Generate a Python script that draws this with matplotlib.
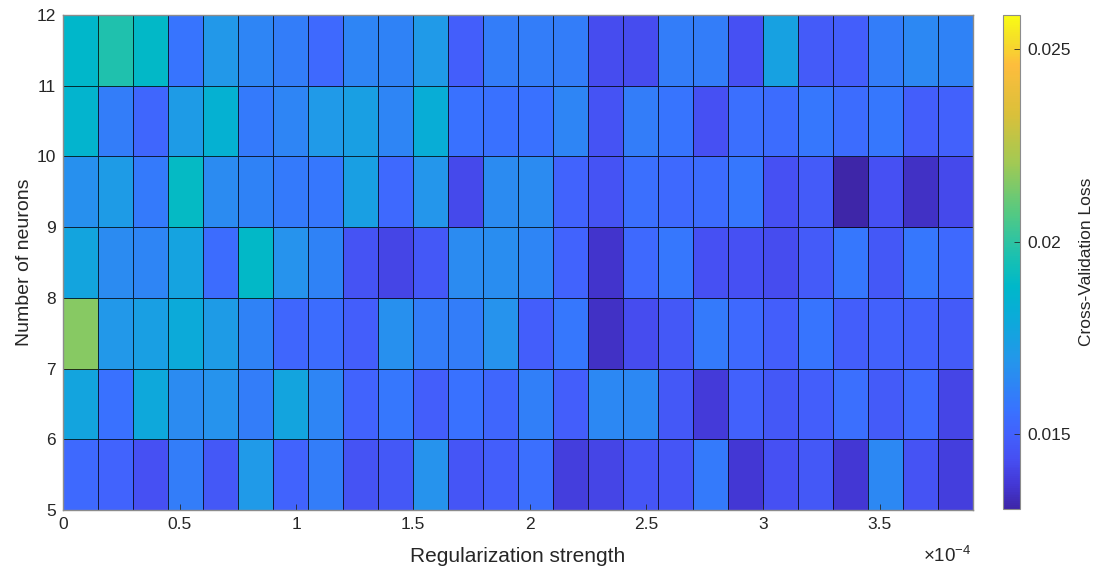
import numpy as np
import matplotlib
matplotlib.use("Agg")
import matplotlib.pyplot as plt
from matplotlib.colors import LinearSegmentedColormap
from matplotlib.ticker import FixedLocator

plt.rcParams['font.family'] = ['Liberation Sans', 'DejaVu Sans']
plt.rcParams['mathtext.fontset'] = 'custom'
plt.rcParams['mathtext.rm'] = 'Liberation Sans'
plt.rcParams['mathtext.it'] = 'Liberation Sans'

# Grid edges: regularization strength (columns) and number of neurons (rows)
reg_edges = [0.0, 0.15e-4, 0.30e-4, 0.45e-4, 0.60e-4, 0.75e-4, 0.90e-4, 1.05e-4,
             1.20e-4, 1.35e-4, 1.50e-4, 1.65e-4, 1.80e-4, 1.95e-4, 2.10e-4, 2.25e-4,
             2.40e-4, 2.55e-4, 2.70e-4, 2.85e-4, 3.00e-4, 3.15e-4, 3.30e-4, 3.45e-4,
             3.60e-4, 3.75e-4, 3.90e-4]
neuron_edges = [5, 6, 7, 8, 9, 10, 11, 12]

# Cross-validation loss, one list per neuron count (5 .. 11)
loss_n5 = [0.0153, 0.0151, 0.0144, 0.0160, 0.0147, 0.0171, 0.0151, 0.0160, 0.0145, 0.0147,
           0.0168, 0.0146, 0.0149, 0.0155, 0.0139, 0.0141, 0.0146, 0.0146, 0.0159, 0.0137,
           0.0144, 0.0147, 0.0137, 0.0164, 0.0145, 0.0139]
loss_n6 = [0.0177, 0.0156, 0.0179, 0.0165, 0.0168, 0.0160, 0.0177, 0.0163, 0.0151, 0.0158,
           0.0149, 0.0156, 0.0152, 0.0161, 0.0149, 0.0164, 0.0164, 0.0147, 0.0138, 0.0150,
           0.0147, 0.0149, 0.0155, 0.0148, 0.0153, 0.0141]
loss_n7 = [0.0216, 0.0170, 0.0174, 0.0180, 0.0172, 0.0162, 0.0152, 0.0154, 0.0149, 0.0167,
           0.0160, 0.0160, 0.0168, 0.0149, 0.0158, 0.0135, 0.0143, 0.0147, 0.0159, 0.0153,
           0.0149, 0.0157, 0.0149, 0.0150, 0.0150, 0.0148]
loss_n8 = [0.0177, 0.0165, 0.0163, 0.0176, 0.0154, 0.0189, 0.0168, 0.0162, 0.0145, 0.0141,
           0.0147, 0.0165, 0.0166, 0.0163, 0.0151, 0.0136, 0.0153, 0.0158, 0.0144, 0.0144,
           0.0143, 0.0148, 0.0158, 0.0147, 0.0158, 0.0153]
loss_n9 = [0.0167, 0.0172, 0.0159, 0.0190, 0.0165, 0.0162, 0.0159, 0.0158, 0.0174, 0.0153,
           0.0169, 0.0142, 0.0165, 0.0165, 0.0151, 0.0145, 0.0155, 0.0153, 0.0154, 0.0158,
           0.0144, 0.0148, 0.0131, 0.0144, 0.0135, 0.0142]
loss_n10 = [0.0186, 0.0160, 0.0152, 0.0172, 0.0184, 0.0159, 0.0163, 0.0171, 0.0174, 0.0163,
            0.0182, 0.0156, 0.0156, 0.0156, 0.0163, 0.0145, 0.0160, 0.0157, 0.0144, 0.0155,
            0.0154, 0.0158, 0.0154, 0.0158, 0.0149, 0.0150]
loss_n11 = [0.0188, 0.0197, 0.0189, 0.0157, 0.0170, 0.0163, 0.0160, 0.0153, 0.0163, 0.0162,
            0.0171, 0.0149, 0.0160, 0.0160, 0.0160, 0.0143, 0.0143, 0.0160, 0.0160, 0.0144,
            0.0175, 0.0148, 0.0149, 0.0160, 0.0164, 0.0162]

loss = np.array([loss_n5, loss_n6, loss_n7, loss_n8, loss_n9, loss_n10, loss_n11])

x_ticks = [0, 0.5e-4, 1e-4, 1.5e-4, 2e-4, 2.5e-4, 3e-4, 3.5e-4]
x_tick_labels = ['0', '0.5', '1', '1.5', '2', '2.5', '3', '3.5']
y_ticks = [5, 6, 7, 8, 9, 10, 11, 12]
cbar_ticks = [0.015, 0.02, 0.025]
cbar_tick_labels = ['0.015', '0.02', '0.025']
clim = (0.01305, 0.02589)

# Parula-like colormap (position, rgb)
parula_anchors = [
    (0.00, (0.2422, 0.1504, 0.6603)),
    (0.05, (0.2650, 0.2200, 0.8400)),
    (0.10, (0.2750, 0.3100, 0.9500)),
    (0.15, (0.2600, 0.3800, 0.9900)),
    (0.20, (0.2200, 0.4500, 1.0000)),
    (0.30, (0.1400, 0.5900, 0.9200)),
    (0.40, (0.0300, 0.6800, 0.8400)),
    (0.45, (0.0000, 0.7200, 0.7900)),
    (0.50, (0.0800, 0.7500, 0.7100)),
    (0.55, (0.2000, 0.7700, 0.6200)),
    (0.60, (0.3300, 0.7900, 0.5100)),
    (0.70, (0.6300, 0.7900, 0.3300)),
    (0.80, (0.8550, 0.7530, 0.2260)),
    (0.90, (0.9930, 0.7410, 0.2390)),
    (0.95, (0.9600, 0.8700, 0.1600)),
    (1.00, (0.9769, 0.9839, 0.0805)),
]
parula = LinearSegmentedColormap.from_list('parula', parula_anchors, N=256)

text_color = '#262626'
axis_color = '#8c8c8c'

fig = plt.figure(figsize=(10.94, 5.69), dpi=100)
ax = fig.add_axes([63 / 1094, 59 / 569, 910 / 1094, 495 / 569])
cax = fig.add_axes([1003 / 1094, 60 / 569, 17 / 1094, 494 / 569])

mesh = ax.pcolormesh(reg_edges, neuron_edges, loss, cmap=parula,
                     vmin=clim[0], vmax=clim[1],
                     edgecolors=(0, 0, 0, 0.75), linewidth=0.7)

ax.set_xlim(reg_edges[0], reg_edges[-1])
ax.set_ylim(neuron_edges[0], neuron_edges[-1])
ax.xaxis.set_major_locator(FixedLocator(x_ticks))
ax.set_xticklabels(x_tick_labels)
ax.set_yticks(y_ticks)
ax.tick_params(direction='in', length=4, width=0.6, colors=text_color,
               labelsize=12.5, top=False, right=False, pad=5)
for sp in ax.spines.values():
    sp.set_color(axis_color)
    sp.set_linewidth(1.0)

ax.set_xlabel('Regularization strength', fontsize=15, color=text_color)
ax.xaxis.set_label_coords(0.5, -0.074)
ax.set_ylabel('Number of neurons', fontsize=14, color=text_color, labelpad=3)
ax.text(0.998, -0.072, r'$\times10^{-4}$', transform=ax.transAxes,
        ha='right', va='top', fontsize=13.5, color=text_color)

cb = fig.colorbar(mesh, cax=cax)
cb.set_ticks(cbar_ticks)
cb.set_ticklabels(cbar_tick_labels)
cb.ax.tick_params(direction='in', length=4, width=0.6, colors=text_color,
                  labelsize=12.5, pad=5)
cb.outline.set_edgecolor(axis_color)
cb.outline.set_linewidth(0.8)
cb.set_label('Cross-Validation Loss', fontsize=12.5, color=text_color, labelpad=6)

fig.savefig('out.png', dpi=100)
